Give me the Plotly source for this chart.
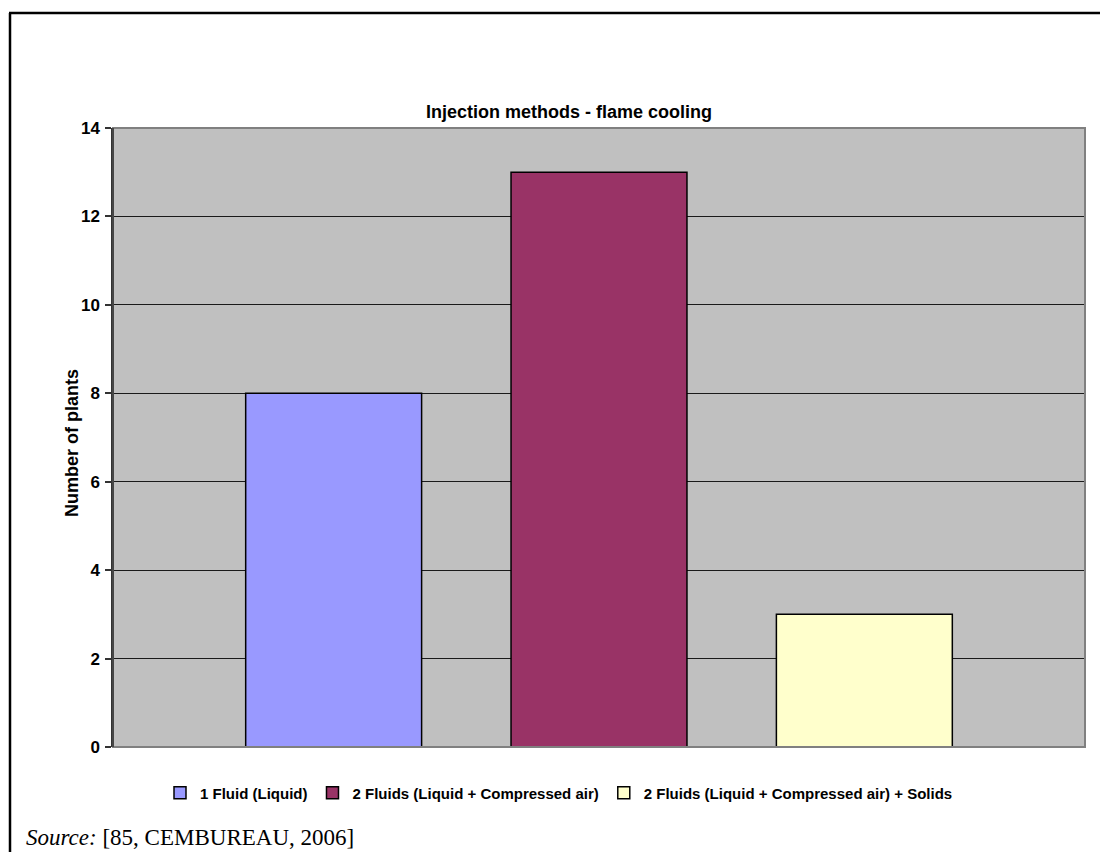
import plotly.graph_objects as go

# ---- data ----
category = ["Injection methods"]
series_names = [
    "1 Fluid (Liquid)",
    "2 Fluids (Liquid + Compressed air)",
    "2 Fluids (Liquid + Compressed air) + Solids",
]
series_values = [8, 13, 3]
series_colors = ["#9999FF", "#993366", "#FFFFCC"]
title_text = "Injection methods - flame cooling"
y_title = "Number of plants"
y_ticks = [0, 2, 4, 6, 8, 10, 12, 14]
source_text = "<i>Source:</i> [85, CEMBUREAU, 2006]"

# page body has an 8px margin: work in reference-pixel coords and shift
OFF = 8
W, H = 1108 - OFF, 852 - OFF
L, R, T, B = 113 - OFF, 1085 - OFF, 128 - OFF, 747 - OFF  # plot area (figure px)
pw, ph = R - L, B - T


def px_x(x):  # x in reference pixels -> paper
    return (x - OFF - L) / pw


def px_y(y):  # y in reference pixels -> paper
    return (B - (y - OFF)) / ph


FONT = "Liberation Sans, Arial, sans-serif"

fig = go.Figure()
for name, val, col in zip(series_names, series_values, series_colors):
    fig.add_trace(go.Bar(
        x=category, y=[val], name=name,
        marker=dict(color=col, line=dict(color="#000000", width=1.5)),
    ))

fig.update_layout(
    width=W, height=H,
    margin=dict(l=L, r=W - R, t=T, b=H - B, pad=0),
    paper_bgcolor="white",
    plot_bgcolor="#C0C0C0",
    barmode="group",
    bargap=0.181,
    bargroupgap=0.337,
    font=dict(family=FONT, color="#000000"),
    title=dict(
        text=title_text,
        font=dict(family=FONT, size=18, weight="bold", color="#000000"),
        x=px_x(569), xref="paper", xanchor="center",
        y=1 - (112 - OFF) / H, yref="container", yanchor="middle",
    ),
    showlegend=True,
    legend=dict(
        orientation="h",
        x=px_x(559), xanchor="center",
        y=px_y(793), yanchor="middle",
        font=dict(family=FONT, size=15, weight="bold", color="#000000"),
        bgcolor="rgba(0,0,0,0)",
        traceorder="normal",
    ),
    xaxis=dict(
        showticklabels=False, ticks="", showgrid=False, zeroline=False,
        showline=False, fixedrange=True,
    ),
    yaxis=dict(
        range=[0, 14], tickvals=y_ticks, ticktext=[str(v) for v in y_ticks],
        showgrid=True, gridcolor="#1a1a1a", gridwidth=1,
        zeroline=False,
        showline=True, linecolor="#333333", linewidth=1.5,
        ticks="outside", ticklen=6, tickcolor="#333333", tickwidth=1.5,
        tickfont=dict(family=FONT, size=17, weight="bold", color="#000000"),
        ticklabelstandoff=2,
    ),
)

# y-axis title
fig.add_annotation(
    text=y_title, xref="paper", yref="paper",
    x=px_x(72), xanchor="center", y=px_y(443), yanchor="middle",
    textangle=-90, showarrow=False,
    font=dict(family=FONT, size=18, weight="bold", color="#000000"),
)

# grey plot-area border
fig.add_shape(type="rect", xref="paper", yref="paper", x0=0, y0=0, x1=1, y1=1,
              line=dict(color="#808080", width=2), layer="above")
# left axis line redrawn darker on top
fig.add_shape(type="line", xref="paper", yref="paper", x0=0, y0=0, x1=0, y1=1,
              line=dict(color="#333333", width=1.5), layer="above")

# document frame (top and left)
fig.add_shape(type="line", xref="paper", yref="paper",
              x0=px_x(10), y0=px_y(860), x1=px_x(10), y1=px_y(13),
              line=dict(color="#000000", width=2.5), layer="above")
fig.add_shape(type="line", xref="paper", yref="paper",
              x0=px_x(9), y0=px_y(13), x1=px_x(1115), y1=px_y(13),
              line=dict(color="#000000", width=2.5), layer="above")

fig.add_annotation(
    text=source_text, xref="paper", yref="paper",
    x=px_x(24), xanchor="left", y=px_y(837), yanchor="middle",
    showarrow=False,
    font=dict(family="Liberation Serif, Times New Roman, serif", size=23, color="#000000"),
)

fig.write_html("out.html")
